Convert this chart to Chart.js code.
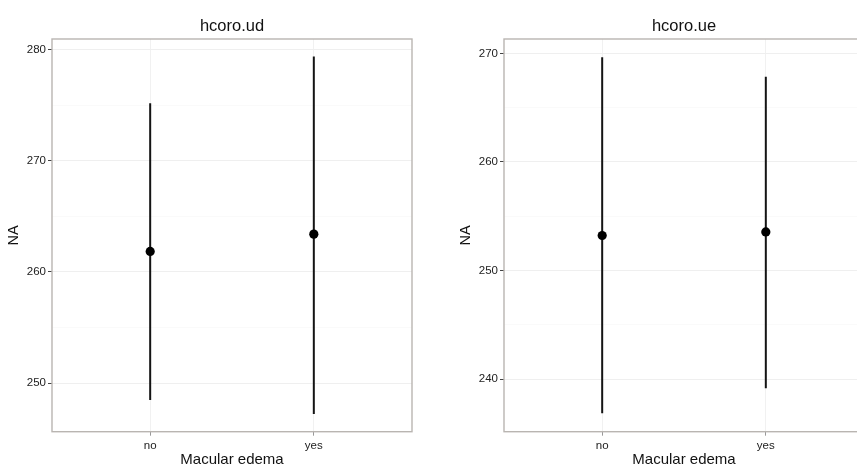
<!DOCTYPE html>
<html>
<head>
<meta charset="utf-8">
<script src="https://cdn.jsdelivr.net/npm/chart.js@4.4.1/dist/chart.umd.min.js"></script>
<style>
  html, body { margin: 0; padding: 0; background: #fff; overflow: hidden; }
  #wrap { position: relative; width: 857px; height: 469px; overflow: hidden; }
  .panel { position: absolute; top: 0; width: 420px; height: 469px; }
  #p1 { left: 0; }
  #p2 { left: 452px; }
</style>
</head>
<body>
<div id="wrap">
  <div class="panel" id="p1"><canvas id="c1"></canvas></div>
  <div class="panel" id="p2"><canvas id="c2"></canvas></div>
</div>
<script>
// Group means with their interval limits, one panel per measurement
const categories = ['no', 'yes'];

const udMean  = [261.85, 263.40];
const udLower = [248.50, 247.25];
const udUpper = [275.15, 279.35];
const udTicks = [250, 260, 270, 280];

const ueMean  = [253.22, 253.55];
const ueLower = [236.85, 239.15];
const ueUpper = [269.65, 267.85];
const ueTicks = [240, 250, 260, 270];

const FONT = "'Liberation Sans', Arial, Helvetica, sans-serif";

// grey frame around the plotting area
const panelBorder = {
  id: 'panelBorder',
  afterDraw(chart) {
    const { ctx, chartArea: a } = chart;
    ctx.save();
    ctx.strokeStyle = '#b9b5b1';
    ctx.lineWidth = 1.4;
    ctx.strokeRect(a.left, a.top, a.right - a.left, a.bottom - a.top);
    ctx.restore();
  }
};

function makePanel(canvasId, title, means, lower, upper, majorTicks, yMin, yMax) {
  const intervals = categories.map((c, i) => ({
    data: [{ x: i + 1, y: lower[i] }, { x: i + 1, y: upper[i] }],
    showLine: true,
    borderColor: '#141414',
    borderWidth: 2,
    pointRadius: 0,
    order: 2
  }));
  const points = {
    data: means.map((m, i) => ({ x: i + 1, y: m })),
    pointRadius: 4.6,
    pointBackgroundColor: '#000',
    pointBorderColor: '#000',
    pointBorderWidth: 0,
    order: 1
  };

  // major ticks get labels; minor ticks sit halfway between them
  const step = majorTicks[1] - majorTicks[0];
  const allTicks = [];
  for (let v = majorTicks[0] - step / 2; v <= yMax; v += step / 2) {
    if (v >= yMin) allTicks.push(v);
  }
  const isMajor = v => majorTicks.includes(v);

  return new Chart(document.getElementById(canvasId), {
    type: 'scatter',
    data: { datasets: [points, ...intervals] },
    plugins: [panelBorder],
    options: {
      responsive: true,
      maintainAspectRatio: false,
      animation: false,
      layout: { padding: { left: 0, right: 8, top: 0, bottom: 0 } },
      plugins: {
        legend: { display: false },
        tooltip: { enabled: false },
        title: {
          display: true,
          text: title,
          fullSize: false,
          color: '#111',
          font: { family: FONT, size: 16.5, weight: 'normal' },
          padding: { top: 16.2, bottom: 3 }
        }
      },
      scales: {
        x: {
          type: 'linear',
          min: 0.4,
          max: 2.6,
          afterBuildTicks: s => { s.ticks = categories.map((c, i) => ({ value: i + 1 })); },
          afterFit: s => { s.height = 37.3; },
          ticks: {
            callback: v => categories[v - 1],
            color: '#222',
            font: { family: FONT, size: 11.5 },
            padding: 3,
            maxRotation: 0
          },
          grid: { color: '#f1f1f1', lineWidth: 1, tickLength: 4, tickColor: '#999' },
          border: { display: false },
          title: {
            display: true,
            text: 'Macular edema',
            color: '#111',
            font: { family: FONT, size: 15 },
            padding: { top: 0, bottom: 0.5 }
          }
        },
        y: {
          type: 'linear',
          min: yMin,
          max: yMax,
          afterBuildTicks: s => { s.ticks = allTicks.map(v => ({ value: v })); },
          afterFit: s => { s.width = 52; },
          ticks: {
            callback: v => (isMajor(v) ? String(v) : ''),
            color: '#222',
            font: { family: FONT, size: 11.5 },
            padding: 2
          },
          grid: {
            color: c => (isMajor(c.tick.value) ? '#efefef' : '#f7f7f7'),
            lineWidth: c => (isMajor(c.tick.value) ? 1 : 0.6),
            tickLength: 4,
            tickColor: c => (isMajor(c.tick.value) ? '#444' : 'rgba(0,0,0,0)')
          },
          border: { display: false },
          title: {
            display: true,
            text: 'NA',
            color: '#111',
            font: { family: FONT, size: 14.5 },
            padding: { top: 5.5, bottom: 0 }
          }
        }
      }
    }
  });
}

makePanel('c1', 'hcoro.ud', udMean, udLower, udUpper, udTicks, 245.65, 280.93);
makePanel('c2', 'hcoro.ue', ueMean, ueLower, ueUpper, ueTicks, 235.15, 271.32);
</script>
</body>
</html>
